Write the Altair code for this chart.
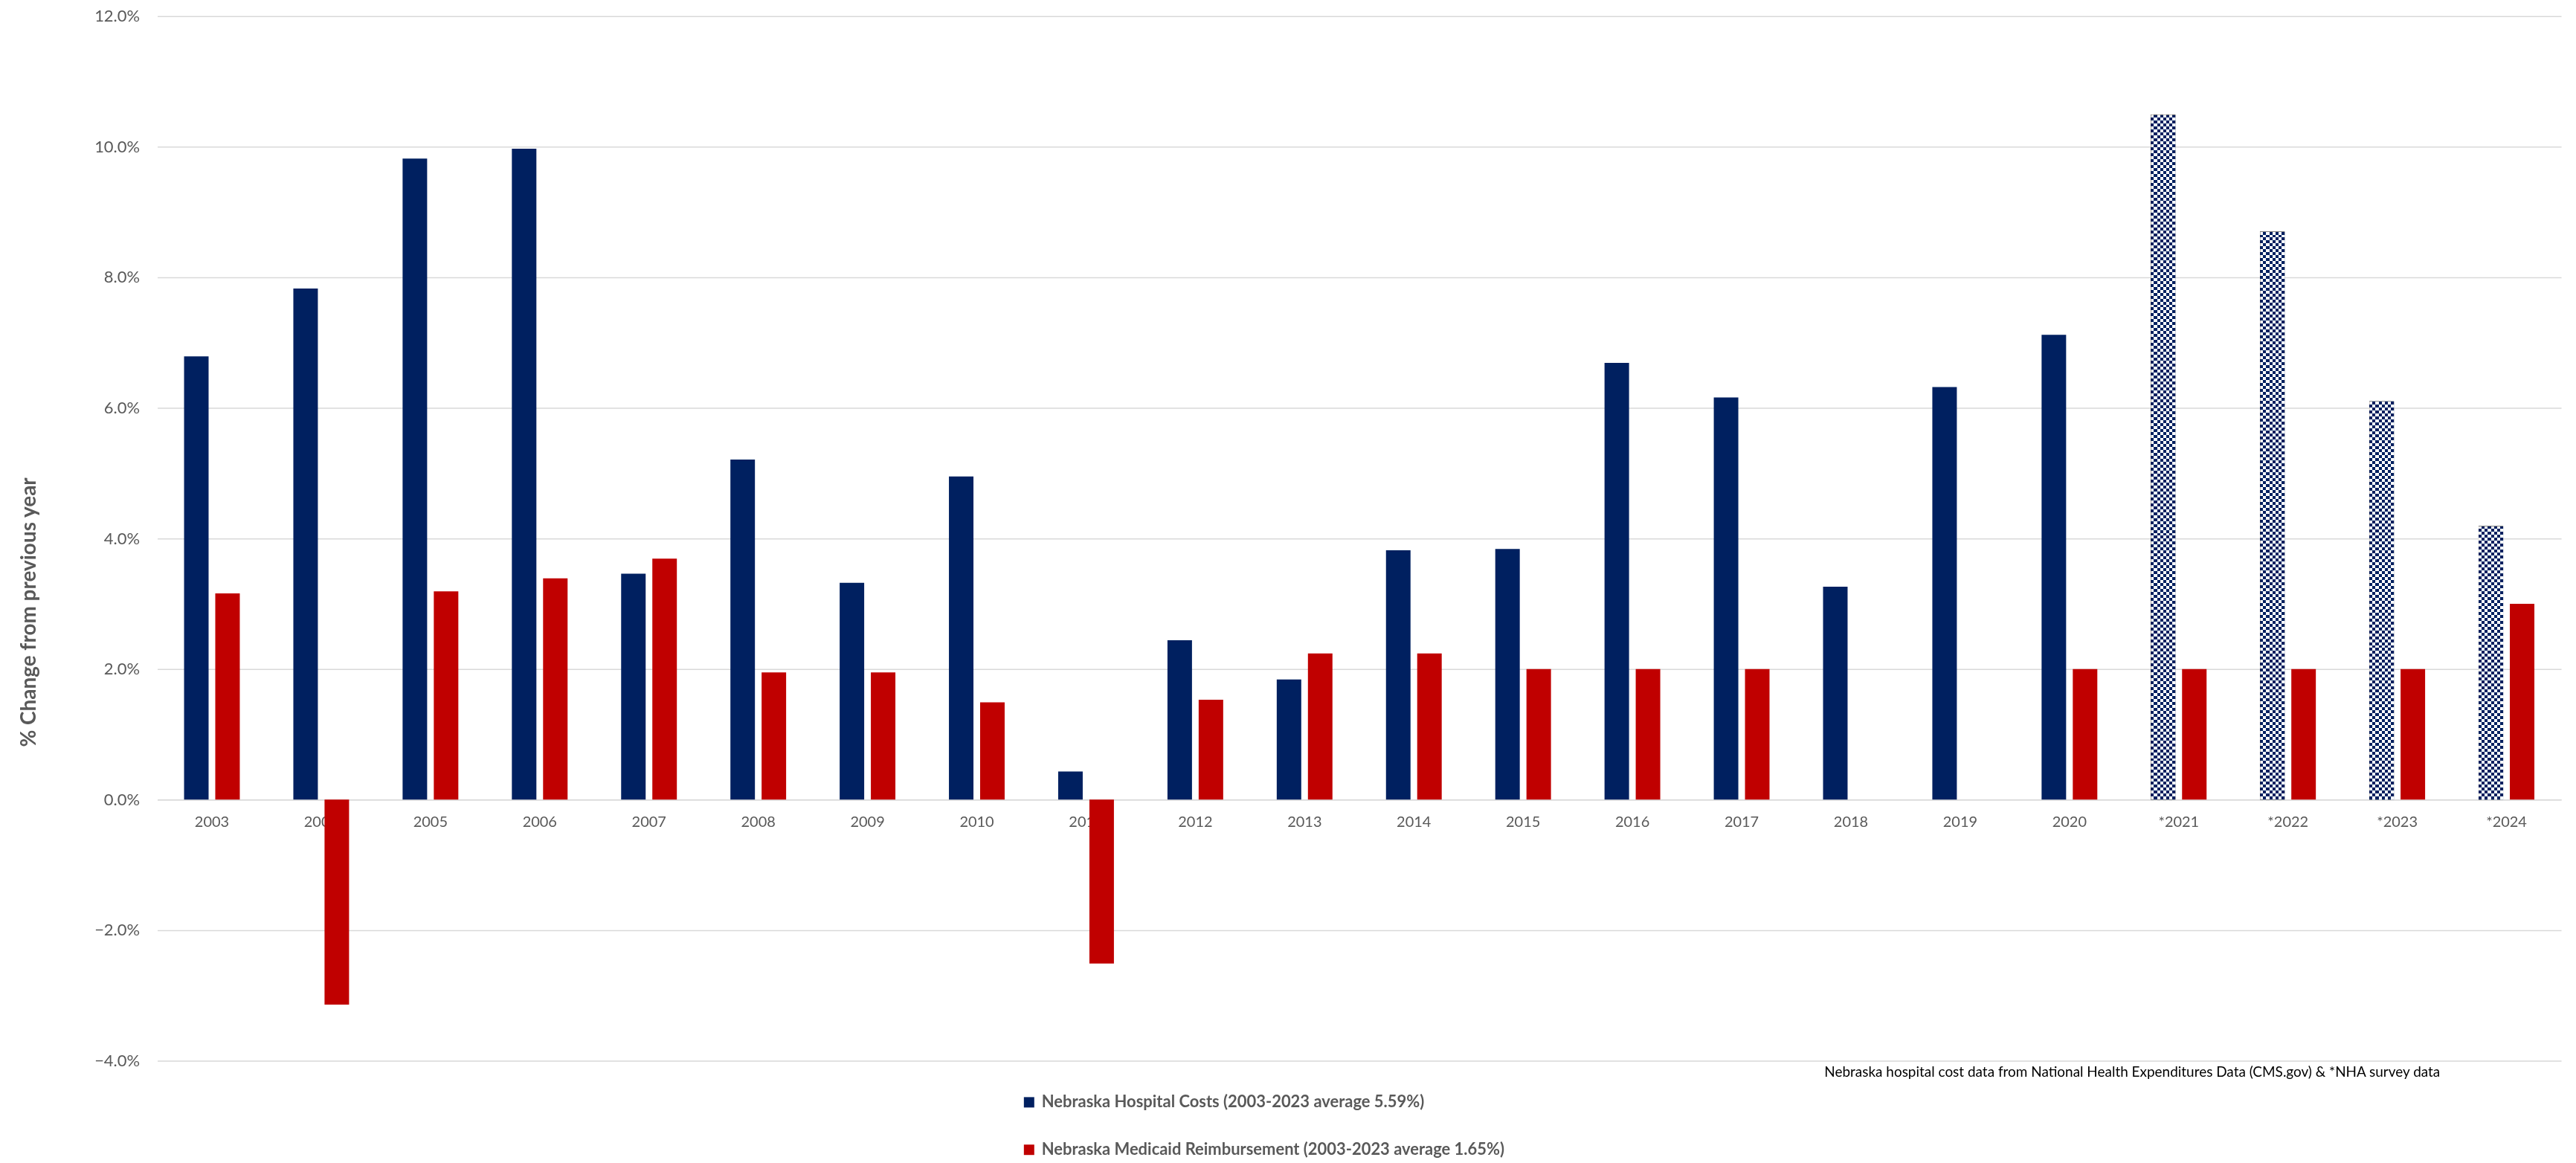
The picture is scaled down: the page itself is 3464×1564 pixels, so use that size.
import altair as alt

# ---------------- data ----------------
years = ["2003", "2004", "2005", "2006", "2007", "2008", "2009", "2010", "2011",
         "2012", "2013", "2014", "2015", "2016", "2017", "2018", "2019", "2020",
         "*2021", "*2022", "*2023", "*2024"]
hospital_costs = [6.79, 7.83, 9.82, 9.97, 3.46, 5.21, 3.32, 4.95, 0.43,
                  2.44, 1.84, 3.82, 3.84, 6.69, 6.16, 3.26, 6.32, 7.12,
                  10.49, 8.70, 6.10, 4.19]
medicaid_reimb = [3.16, -3.14, 3.19, 3.39, 3.69, 1.95, 1.95, 1.49, -2.51,
                  1.53, 2.24, 2.24, 2.00, 2.00, 2.00, None, None, 2.00,
                  2.00, 2.00, 2.00, 3.00]
projected_years = ["*2021", "*2022", "*2023", "*2024"]
series_names = ["Nebraska Hospital Costs (2003-2023 average 5.59%)",
                "Nebraska Medicaid Reimbursement (2003-2023 average 1.65%)"]
y_ticks = [-0.04, -0.02, 0.0, 0.02, 0.04, 0.06, 0.08, 0.10, 0.12]
y_title = "% Change from previous year"
source_note = ("Nebraska hospital cost data from National Health Expenditures "
               "Data (CMS.gov) & *NHA survey data")

# ---------------- style ----------------
W, H = 3240, 1408
YMIN, YMAX = -0.04, 0.12
NAVY, RED = "#002060", "#C00000"
GRID, TEXT = "#D9D9D9", "#595959"
FONT = "Lato"
CELL = 4  # checker cell size (px)

rows = []
for i, yr in enumerate(years):
    rows.append({"year": yr, "series": series_names[0],
                 "value": hospital_costs[i] / 100, "proj": yr in projected_years})
    if medicaid_reimb[i] is not None:
        rows.append({"year": yr, "series": series_names[1],
                     "value": medicaid_reimb[i] / 100, "proj": False})

# checkerboard pattern for projected (survey) years, built from three blended layers
px_per_unit = H / (YMAX - YMIN)


def stripes(n, c_on, c_off, vertical):
    stops = []
    for k in range(n):
        c = c_on if k % 2 == 0 else c_off
        stops += [{"offset": k / n, "color": c}, {"offset": (k + 1) / n, "color": c}]
    if vertical:
        return {"gradient": "linear", "x1": 0, "y1": 0, "x2": 1, "y2": 0, "stops": stops}
    return {"gradient": "linear", "x1": 0, "y1": 0, "x2": 0, "y2": 1, "stops": stops}


pat_rows = []
for r in rows:
    if r["proj"] and r["series"] == series_names[0]:
        n = max(2, round(abs(r["value"]) * px_per_unit / CELL))
        q = dict(r)
        q["hgrad"] = stripes(n, "#ffffff", "rgba(255,255,255,0)", False)
        pat_rows.append(q)
vgrad = stripes(8, "#000000", "#ffffff", True)

x_enc = alt.X("year:N",
              scale=alt.Scale(domain=years, paddingInner=0.49, paddingOuter=0.245),
              axis=alt.Axis(title=None, labelAngle=0, ticks=False, grid=False,
                            domain=True, domainColor=GRID, domainWidth=1.5,
                            labelFont=FONT, labelFontSize=20, labelColor=TEXT,
                            labelPadding=20,
                            offset=-H * (0 - YMIN) / (YMAX - YMIN)))
xo_enc = alt.XOffset("series:N",
                     scale=alt.Scale(domain=series_names, paddingInner=0.214,
                                     paddingOuter=0))
y_enc = alt.Y("value:Q", stack=None,
              scale=alt.Scale(domain=[YMIN, YMAX], nice=False, zero=False),
              axis=alt.Axis(values=y_ticks, format=".1%", grid=True,
                            gridColor=GRID, gridWidth=1.5, domain=False,
                            ticks=False, labelFont=FONT, labelFontSize=22,
                            labelColor=TEXT, labelPadding=24,
                            title=y_title, titleFont=FONT, titleFontSize=28,
                            titleFontWeight="bold", titleColor=TEXT,
                            titleAngle=270, titleAlign="center",
                            titleBaseline="middle", titleX=-172, titleY=803))

bars = alt.Chart(alt.Data(values=rows)).mark_bar().encode(
    x=x_enc, xOffset=xo_enc, y=y_enc,
    color=alt.Color("series:N",
                    scale=alt.Scale(domain=series_names, range=[NAVY, RED]),
                    legend=alt.Legend(title=None, orient="none",
                                      legendX=1164, legendY=1453,
                                      direction="vertical", symbolType="square",
                                      symbolSize=196, symbolStrokeWidth=0,
                                      labelFont=FONT, labelFontSize=22,
                                      labelFontWeight="bold", labelColor=TEXT,
                                      rowPadding=42, labelLimit=0,
                                      labelOffset=6)),
)

pat_base = alt.Chart(alt.Data(values=pat_rows))
pat_a = pat_base.mark_bar(fill=vgrad).encode(
    x=alt.X("year:N"), xOffset=alt.XOffset("series:N"),
    y=alt.Y("value:Q", stack=None))
pat_b = pat_base.mark_bar(blend="difference").encode(
    x=alt.X("year:N"), xOffset=alt.XOffset("series:N"),
    y=alt.Y("value:Q", stack=None),
    fill=alt.Fill("hgrad:N", scale=None, legend=None))
pat_c = pat_base.mark_bar(fill=NAVY, blend="lighten").encode(
    x=alt.X("year:N"), xOffset=alt.XOffset("series:N"),
    y=alt.Y("value:Q", stack=None))

note = alt.Chart(alt.Data(values=[{"note": source_note}])).mark_text(
    align="left", baseline="middle", font=FONT, fontSize=19, color="#000000"
).encode(x=alt.value(2247), y=alt.value(1424), text="note:N")

chart = alt.layer(bars, pat_a, pat_b, pat_c, note).properties(
    width=W, height=H,
    padding={"left": 204, "top": 12, "right": 12, "bottom": 136},
    autosize=alt.AutoSizeParams(type="none"),
    background="white",
).configure_view(stroke=None)

chart.save("out.html", embed_options={"renderer": "svg", "actions": False})
